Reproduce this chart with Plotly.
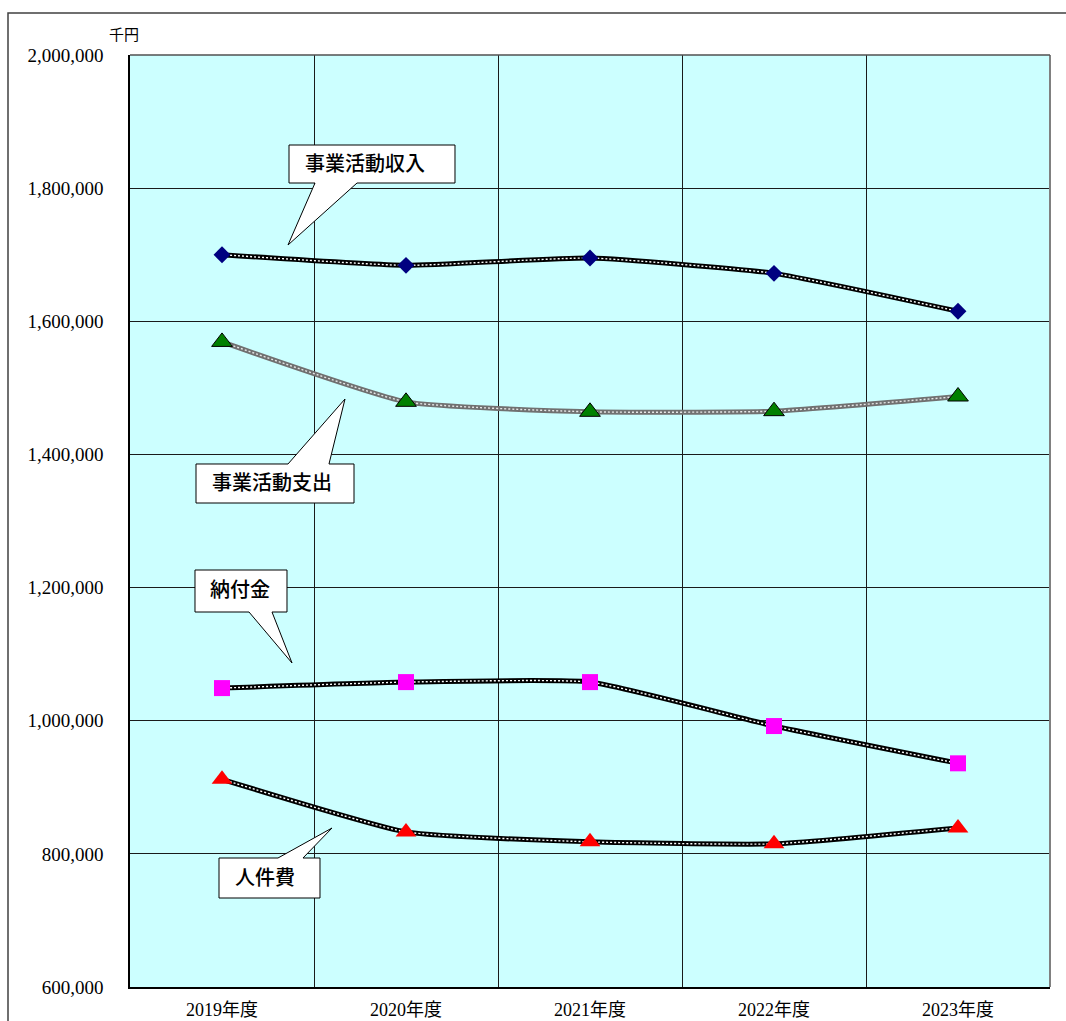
import plotly.graph_objects as go

# ---- data ----
years = ["2019年度", "2020年度", "2021年度", "2022年度", "2023年度"]
income = [1700000, 1684000, 1695000, 1672000, 1615000]      # 事業活動収入
expense = [1569000, 1479000, 1464000, 1465000, 1487000]     # 事業活動支出
levy = [1049000, 1058000, 1058000, 992000, 936000]          # 納付金
personnel = [912000, 833000, 818000, 815000, 839000]        # 人件費
series_names = ["事業活動収入", "事業活動支出", "納付金", "人件費"]

W, H = 1066, 1021
ML, MR, MT, MB = 130, 16, 55, 34
PW, PH = W - ML - MR, H - MT - MB

SERIF = "Times New Roman, Liberation Serif, DejaVu Serif, serif"
SERIF_JP = "Times New Roman, Liberation Serif, Noto Sans CJK JP, serif"


def px(x):
    return (x - ML) / PW


def py(y):
    return (H - MB - y) / PH


xs = list(range(len(years)))
fig = go.Figure()

styles = [
    (income, "#000000", "#ffffff", dict(symbol="diamond", size=13, color="#000080",
                                        line=dict(width=0))),
    (expense, "#707070", "#e6e6e6", dict(symbol="triangle-up", size=18, color="#008000",
                                         line=dict(width=1, color="#000000"))),
    (levy, "#000000", "#ffffff", dict(symbol="square", size=16, color="#FF00FF",
                                      line=dict(width=0))),
    (personnel, "#000000", "#ffffff", dict(symbol="triangle-up", size=18, color="#FF0000",
                                           line=dict(width=0))),
]

SM = 0.45
for (vals, base, dot, mk), name in zip(styles, series_names):
    fig.add_trace(go.Scatter(x=xs, y=vals, mode="lines", name=name, showlegend=False,
                             line=dict(color=base, width=5, shape="spline", smoothing=SM),
                             hoverinfo="skip"))
    fig.add_trace(go.Scatter(x=xs, y=vals, mode="lines", showlegend=False,
                             line=dict(color=dot, width=1.4, shape="spline", smoothing=SM,
                                       dash="2px,2px"),
                             hoverinfo="skip"))
for (vals, base, dot, mk), name in zip(styles, series_names):
    fig.add_trace(go.Scatter(x=xs, y=vals, mode="markers", name=name, showlegend=False,
                             marker=mk))

shapes = []
# outer frame
shapes.append(dict(type="rect", xref="paper", yref="paper",
                   x0=px(8), x1=px(1100), y0=py(1060), y1=py(13),
                   line=dict(color="#404040", width=1.5), fillcolor="rgba(0,0,0,0)",
                   layer="below"))
# plot area right/top edges
shapes.append(dict(type="line", xref="paper", yref="paper", x0=1, x1=1, y0=0, y1=1,
                   line=dict(color="#808080", width=2)))
shapes.append(dict(type="line", xref="paper", yref="paper", x0=0, x1=1, y0=1, y1=1,
                   line=dict(color="#505050", width=1.5)))


def path(points):
    s = "M " + " L ".join(f"{px(x):.5f},{py(y):.5f}" for x, y in points) + " Z"
    return dict(type="path", xref="paper", yref="paper", path=s,
                fillcolor="#ffffff", line=dict(color="#000000", width=1))


callouts = [
    [(289, 145), (455, 145), (455, 183), (357, 183), (288, 245), (315, 183), (289, 183)],
    [(196, 464), (288, 464), (345, 399), (329, 464), (354, 464), (354, 503), (196, 503)],
    [(195, 570), (287, 570), (287, 612), (272, 612), (292, 663), (249, 612), (195, 612)],
    [(219, 858), (278, 858), (332, 828), (303, 858), (320, 858), (320, 898), (219, 898)],
]
for c in callouts:
    shapes.append(path(c))

label_pos = [(365, 162), (272, 481), (240, 589), (265, 876)]
annotations = []
for (x, y), t in zip(label_pos, series_names):
    annotations.append(dict(xref="paper", yref="paper", x=px(x), y=py(y), text=t,
                            showarrow=False, xanchor="center", yanchor="middle",
                            font=dict(family="Noto Sans CJK JP", size=20, color="#000000",
                                      weight=500)))
annotations.append(dict(xref="paper", yref="paper", x=px(124), y=py(33), text="千円",
                        showarrow=False, xanchor="center", yanchor="middle",
                        font=dict(family="Noto Sans CJK JP", size=15, color="#000000")))

fig.update_layout(
    width=W, height=H,
    margin=dict(l=ML, r=MR, t=MT, b=MB, pad=0, autoexpand=False),
    paper_bgcolor="#ffffff",
    plot_bgcolor="#CCFFFF",
    shapes=shapes,
    annotations=annotations,
    font=dict(family=SERIF_JP, size=17, color="#000000"),
    xaxis=dict(range=[-0.5, len(years) - 0.5], tickmode="array", tickvals=xs, ticktext=years,
               showgrid=False, zeroline=False, showline=True, linecolor="#000000", linewidth=1.5,
               ticks="", ticklabelstandoff=6, automargin=False,
               tickfont=dict(family=SERIF_JP, size=18),
               minor=dict(tickmode="array", tickvals=[i + 0.5 for i in xs[:-1]],
                          showgrid=True, gridcolor="#1a1a1a", gridwidth=1, ticks="")),
    yaxis=dict(range=[600000, 2000000], dtick=200000, tickformat=",", showgrid=True,
               gridcolor="#1a1a1a", gridwidth=1, zeroline=False, showline=True,
               linecolor="#000000", linewidth=1.5, ticks="", ticklabelstandoff=21,
               automargin=False, tickfont=dict(family=SERIF, size=19)),
)

fig.write_html("out.html")
